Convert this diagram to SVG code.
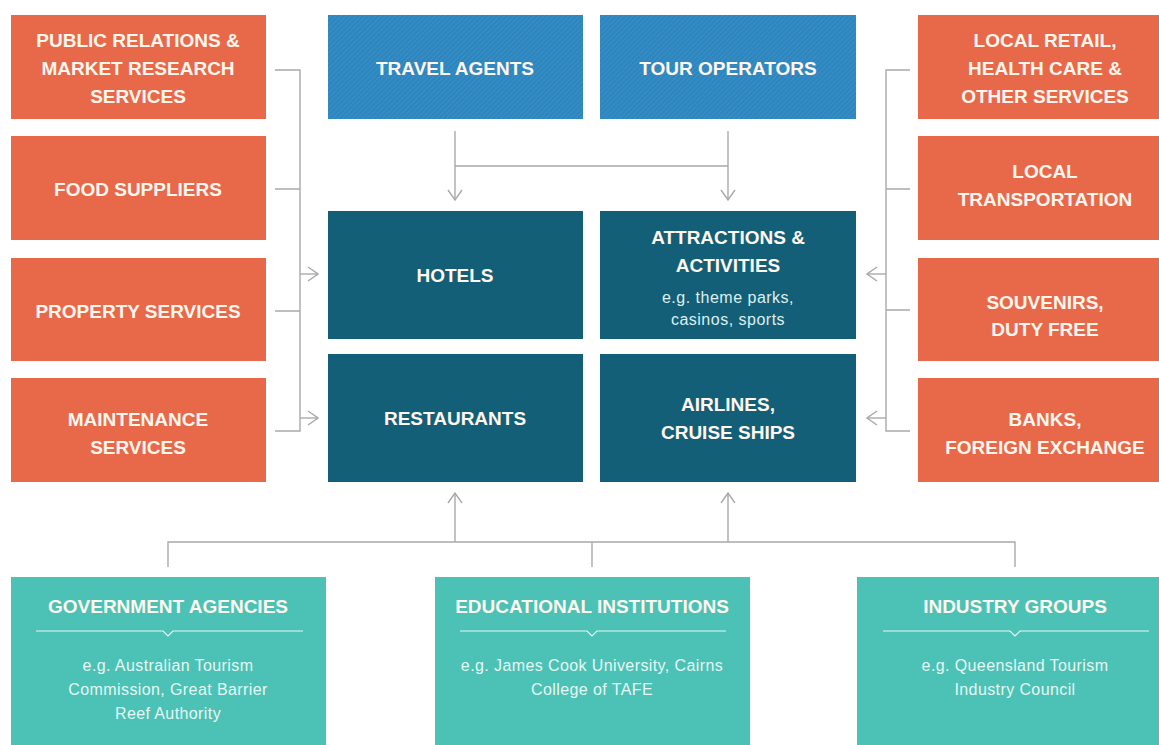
<svg xmlns="http://www.w3.org/2000/svg" width="1159" height="745" viewBox="0 0 1159 745">
<defs>
<pattern id="hatch" patternUnits="userSpaceOnUse" width="3.5" height="3.5" patternTransform="rotate(45)">
<rect width="3.5" height="3.5" fill="#2E86BF"/>
<line x1="0" y1="0" x2="0" y2="3.5" stroke="#4597CC" stroke-width="1"/>
</pattern>
<marker id="arr" viewBox="0 0 12 16" refX="11" refY="8" markerWidth="12" markerHeight="16" markerUnits="userSpaceOnUse" orient="auto">
<path d="M1,1 L11,8 L1,15" fill="none" stroke="#A9A9A9" stroke-width="1.4"/>
</marker>
</defs>
<style>
.org{fill:#E8694A}
.hat{fill:url(#hatch)}
.dk{fill:#135F78}
.tl{fill:#4BC2B5}
.t{font-family:"Liberation Sans",Arial,sans-serif;font-weight:bold;font-size:19px;fill:#FFF6EE;text-anchor:middle}
.s{font-family:"Liberation Sans",Arial,sans-serif;font-size:16px;letter-spacing:0.5px;fill:#DDF0F2;text-anchor:middle}
.sb{font-family:"Liberation Sans",Arial,sans-serif;font-size:16px;letter-spacing:0.4px;fill:#E6F7F4;text-anchor:middle}
.c{fill:none;stroke:#A9A9A9;stroke-width:1.4}
.u{fill:none;stroke:#E6F7F4;stroke-width:1.2}
</style>
<rect width="1159" height="745" fill="#FFFFFF"/>
<g id="connectors">
<path class="c" d="M275,70 H300 V431 H275 M275,189 H300 M275,311 H300"/>
<path class="c" d="M300,274 H318" marker-end="url(#arr)"/>
<path class="c" d="M300,418 H318" marker-end="url(#arr)"/>
<path class="c" d="M910,70 H886 V431 H910 M886,189 H910 M886,310 H910"/>
<path class="c" d="M886,274 H867" marker-end="url(#arr)"/>
<path class="c" d="M886,418 H867" marker-end="url(#arr)"/>
<path class="c" d="M455,166 H728"/>
<path class="c" d="M455,131 V200" marker-end="url(#arr)"/>
<path class="c" d="M728,131 V200" marker-end="url(#arr)"/>
<path class="c" d="M168,567 V542 H1015 V567 M592,542 V567"/>
<path class="c" d="M455,542 V493" marker-end="url(#arr)"/>
<path class="c" d="M728,542 V493" marker-end="url(#arr)"/>
</g>
<g id="public-relations"><rect class="org" x="11" y="15" width="255" height="104"/>
<text class="t" x="138" y="47">PUBLIC RELATIONS &amp;</text><text class="t" x="138" y="75">MARKET RESEARCH</text><text class="t" x="138" y="103">SERVICES</text></g>
<g id="food-suppliers"><rect class="org" x="11" y="136" width="255" height="104"/>
<text class="t" x="138" y="196">FOOD SUPPLIERS</text></g>
<g id="property-services"><rect class="org" x="11" y="258" width="255" height="103"/>
<text class="t" x="138" y="318">PROPERTY SERVICES</text></g>
<g id="maintenance-services"><rect class="org" x="11" y="378" width="255" height="104"/>
<text class="t" x="138" y="426">MAINTENANCE</text><text class="t" x="138" y="454">SERVICES</text></g>
<g id="travel-agents"><rect class="hat" x="328" y="15" width="255" height="104"/>
<text class="t" x="455" y="75">TRAVEL AGENTS</text></g>
<g id="tour-operators"><rect class="hat" x="600" y="15" width="256" height="104"/>
<text class="t" x="728" y="75">TOUR OPERATORS</text></g>
<g id="hotels"><rect class="dk" x="328" y="211" width="255" height="128"/>
<text class="t" x="455" y="282">HOTELS</text></g>
<g id="attractions"><rect class="dk" x="600" y="211" width="256" height="128"/>
<text class="t" x="728" y="244">ATTRACTIONS &amp;</text><text class="t" x="728" y="272">ACTIVITIES</text>
<text class="s" x="728" y="303">e.g. theme parks,</text><text class="s" x="728" y="325">casinos, sports</text></g>
<g id="restaurants"><rect class="dk" x="328" y="354" width="255" height="128"/>
<text class="t" x="455" y="425">RESTAURANTS</text></g>
<g id="airlines"><rect class="dk" x="600" y="354" width="256" height="128"/>
<text class="t" x="728" y="411">AIRLINES,</text><text class="t" x="728" y="439">CRUISE SHIPS</text></g>
<g id="local-retail"><rect class="org" x="918" y="15" width="241" height="104"/>
<text class="t" x="1045" y="47">LOCAL RETAIL,</text><text class="t" x="1045" y="75">HEALTH CARE &amp;</text><text class="t" x="1045" y="103">OTHER SERVICES</text></g>
<g id="local-transportation"><rect class="org" x="918" y="136" width="241" height="104"/>
<text class="t" x="1045" y="178">LOCAL</text><text class="t" x="1045" y="206">TRANSPORTATION</text></g>
<g id="souvenirs"><rect class="org" x="918" y="258" width="241" height="103"/>
<text class="t" x="1045" y="309">SOUVENIRS,</text><text class="t" x="1045" y="336">DUTY FREE</text></g>
<g id="banks"><rect class="org" x="918" y="378" width="241" height="104"/>
<text class="t" x="1045" y="426">BANKS,</text><text class="t" x="1045" y="454">FOREIGN EXCHANGE</text></g>
<g id="government-agencies"><rect class="tl" x="11" y="577" width="315" height="170"/>
<text class="t" x="168" y="613">GOVERNMENT AGENCIES</text>
<path class="u" d="M36,631 H163 L168,636 L173,631 H303"/>
<text class="sb" x="168" y="671">e.g. Australian Tourism</text><text class="sb" x="168" y="695">Commission, Great Barrier</text><text class="sb" x="168" y="719">Reef Authority</text></g>
<g id="educational-institutions"><rect class="tl" x="435" y="577" width="315" height="170"/>
<text class="t" x="592" y="613">EDUCATIONAL INSTITUTIONS</text>
<path class="u" d="M460,631 H587 L592,636 L597,631 H726"/>
<text class="sb" x="592" y="671">e.g. James Cook University, Cairns</text><text class="sb" x="592" y="695">College of TAFE</text></g>
<g id="industry-groups"><rect class="tl" x="857" y="577" width="302" height="170"/>
<text class="t" x="1015" y="613">INDUSTRY GROUPS</text>
<path class="u" d="M883,631 H1010 L1015,636 L1020,631 H1149"/>
<text class="sb" x="1015" y="671">e.g. Queensland Tourism</text><text class="sb" x="1015" y="695">Industry Council</text></g>
</svg>
